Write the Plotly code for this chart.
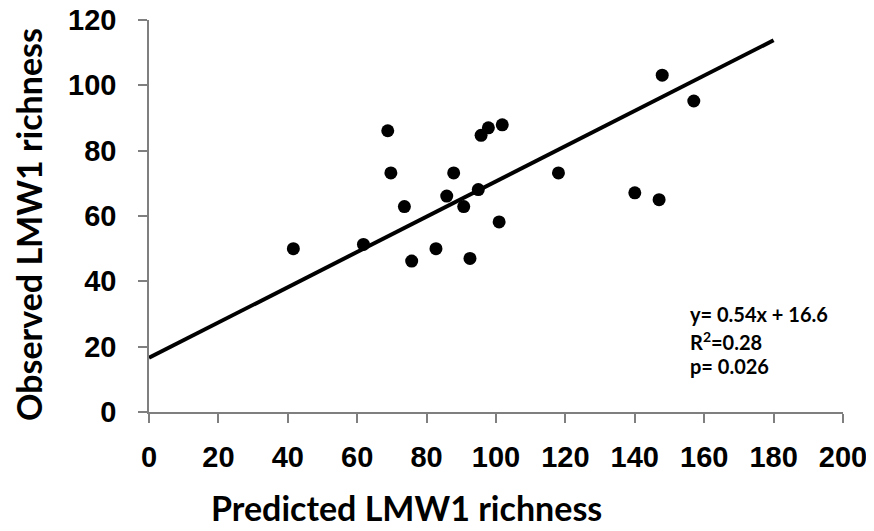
import plotly.graph_objects as go

predicted = [41.6, 61.8, 68.8, 69.7, 73.6, 75.7, 82.7, 85.8, 87.8, 90.7, 92.5,
             94.9, 95.7, 97.8, 100.9, 101.8, 118.0, 140.0, 147.0, 147.9, 157.0]
observed = [50.0, 51.3, 86.1, 73.2, 62.9, 46.2, 50.0, 66.1, 73.2, 62.9, 47.0,
            68.1, 84.7, 87.0, 58.2, 87.9, 73.2, 67.1, 65.0, 103.1, 95.2]

slope = 0.54
intercept = 16.6
fit_x = [0, 180]
fit_y = [slope * v + intercept for v in fit_x]

stats_lines = ["y= 0.54x + 16.6", "R<sup>2</sup>=0.28", "p= 0.026"]
stats_y = [30.0, 21.8, 14.0]

x_ticks = [0, 20, 40, 60, 80, 100, 120, 140, 160, 180, 200]
y_ticks = [0, 20, 40, 60, 80, 100, 120]

fig = go.Figure()
fig.add_trace(go.Scatter(x=fit_x, y=fit_y, mode="lines",
                         line=dict(color="black", width=4), showlegend=False))
fig.add_trace(go.Scatter(x=predicted, y=observed, mode="markers",
                         marker=dict(color="black", size=13), showlegend=False))

axis_font = dict(family="Liberation Sans, Arial", size=29, color="black", weight="bold")
common = dict(showgrid=False, zeroline=False, automargin=False,
              showline=True, linecolor="#7f7f7f", linewidth=1.5,
              ticks="outside", ticklen=9, tickcolor="#7f7f7f", tickwidth=1.5,
              tickfont=axis_font, ticklabeloverflow="allow")
fig.update_xaxes(range=[0, 200], tickvals=x_ticks, ticklabelstandoff=9, **common)
fig.update_yaxes(range=[0, 120], tickvals=y_ticks, ticklabelstandoff=16, **common)

# plot area spans 694 x 392 px
title_font = dict(family="Lato", size=34, color="black", weight="bold")
fig.add_annotation(text="Predicted LMW1 richness", xref="paper", yref="paper",
                   x=(406 - 149) / 694, y=-(507 - 412) / 392, showarrow=False,
                   xanchor="center", yanchor="middle", font=title_font)
fig.add_annotation(text="Observed LMW1 richness", xref="paper", yref="paper",
                   x=-(149 - 28) / 694, y=(412 - 225) / 392, showarrow=False,
                   textangle=-90, xanchor="center", yanchor="middle", font=title_font)

for line, yv in zip(stats_lines, stats_y):
    fig.add_annotation(text=line, x=155.3, y=yv, xref="x", yref="y",
                       showarrow=False, xanchor="left", yanchor="middle",
                       font=dict(family="Lato", size=20, color="black", weight="bold"))

# the page body adds an 8 px offset, so the figure is 16 px smaller
fig.update_layout(template="none", width=866, height=523,
                  plot_bgcolor="white", paper_bgcolor="white",
                  margin=dict(l=141, r=31, t=12, b=119, autoexpand=False))

fig.write_html("out.html")
